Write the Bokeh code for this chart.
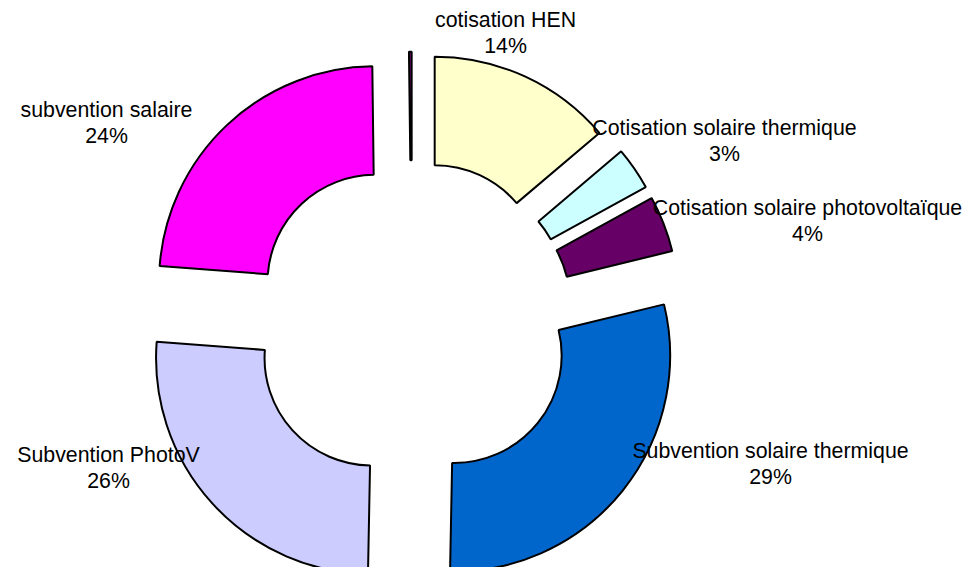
import math
from bokeh.plotting import figure
from bokeh.models import Range1d, ColumnDataSource
from bokeh.core.properties import value
from bokeh.embed import file_html
from bokeh.resources import INLINE

# ---- data ----
categories = ["cotisation HEN", "Cotisation solaire thermique", "Cotisation solaire photovoltaïque",
              "Subvention solaire thermique", "Subvention PhotoV", "subvention salaire", ""]
values = [13.8, 3.2, 4.2, 29.1, 25.9, 23.6, 0.2]
colors = ["#FFFFCC", "#CCFFFF", "#660066", "#0066CC", "#CCCCFF", "#FF00FF", "#800080"]
show_label = [True, True, True, True, True, True, False]

# ---- layout (pixel-like data units, y = -screen y) ----
W, H = 962, 567
CX, CY = 411.5, -321.2
R_OUT, R_IN = 216.0, 107.5
EXPLODE = 54.0
label_x = [505, 724, 807, 770, 108, 106]
label_base = [19, 127, 207, 450, 454, 109]
LINE_GAP = 26

p = figure(width=W, height=H, output_backend="svg", toolbar_location=None,
           x_range=Range1d(0, W), y_range=Range1d(-H, 0),
           min_border=0, outline_line_color=None)
p.axis.visible = False
p.grid.visible = False
p.background_fill_color = "white"
p.border_fill_color = "white"

total = sum(values)
xs, ys, starts, ends = [], [], [], []
cum = 0.0
for v in values:
    t1 = cum / total * 2 * math.pi
    cum += v
    t2 = cum / total * 2 * math.pi
    tm = (t1 + t2) / 2
    xs.append(CX + EXPLODE * math.sin(tm))
    ys.append(CY + EXPLODE * math.cos(tm))
    starts.append(math.pi / 2 - t2)
    ends.append(math.pi / 2 - t1)

src = ColumnDataSource(dict(x=xs, y=ys, s=starts, e=ends, c=colors))
p.annular_wedge(x="x", y="y", inner_radius=R_IN, outer_radius=R_OUT,
                start_angle="s", end_angle="e", direction="anticlock",
                fill_color="c", line_color="black", line_width=2, source=src)

names, pcts, lx, ly1, ly2 = [], [], [], [], []
for i, (cat, v) in enumerate(zip(categories, values)):
    if not show_label[i]:
        continue
    names.append(cat)
    pcts.append(f"{round(v / total * 100):.0f}%")
    lx.append(label_x[i])
    ly1.append(-label_base[i])
    ly2.append(-(label_base[i] + LINE_GAP))

tsrc = ColumnDataSource(dict(x=lx, y1=ly1, y2=ly2, n=names, pc=pcts))
for ycol, tcol in (("y1", "n"), ("y2", "pc")):
    p.text(x="x", y=ycol, text=tcol, source=tsrc, text_align="center",
           text_baseline="alphabetic", text_font=value("Liberation Sans"),
           text_font_size="16pt", text_color="black")

open("out.html", "w").write(file_html(p, INLINE))
